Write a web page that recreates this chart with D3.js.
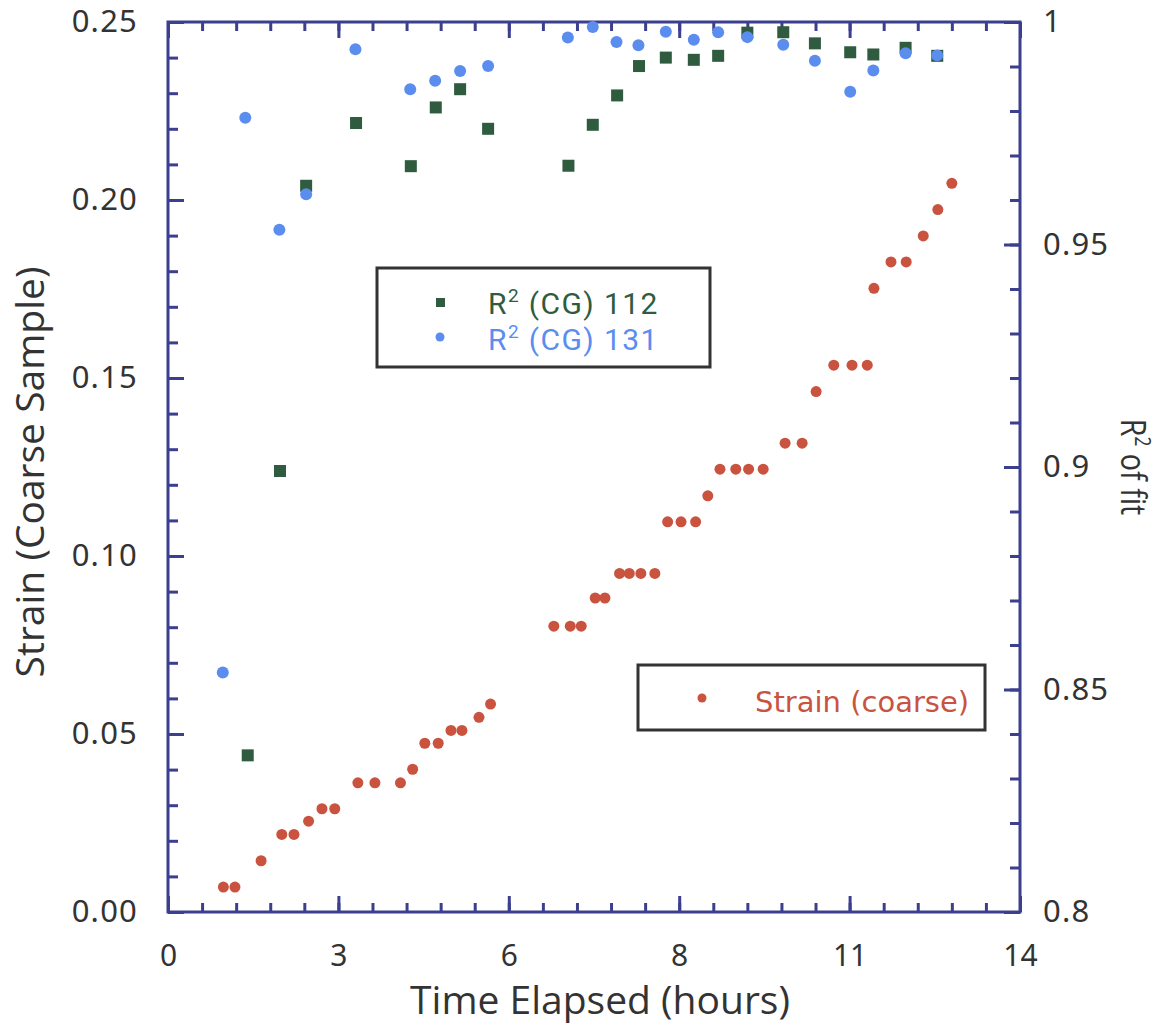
<!DOCTYPE html>
<html><head><meta charset="utf-8">
<script src="https://cdn.jsdelivr.net/npm/d3@7"></script>
<style>
html,body{margin:0;padding:0;background:#fff;}
svg{display:block;}
</style></head>
<body>
<script>
// ---------- DATA ----------
const strainHours = [0.91,1.10,1.53,1.87,2.07,2.31,2.53,2.74,3.12,3.40,3.82,4.02,4.22,4.44,4.65,4.83,5.11,5.30,
  6.34,6.61,6.79,7.02,7.18,7.42,7.58,7.77,8.00,8.21,8.43,8.67,8.87,9.07,9.33,9.54,9.78,10.14,10.42,10.65,
  10.94,11.24,11.49,11.60,11.88,12.13,12.41,12.65,12.88];
const strainValues = [0.0070,0.0070,0.0144,0.0218,0.0218,0.0255,0.0290,0.0290,0.0363,0.0363,0.0363,0.0401,0.0474,0.0474,0.0510,0.0510,0.0547,0.0584,
  0.0803,0.0803,0.0803,0.0882,0.0882,0.0951,0.0951,0.0951,0.0951,0.1096,0.1096,0.1096,0.1169,0.1244,0.1244,0.1244,0.1244,0.1317,0.1317,0.1462,
  0.1536,0.1536,0.1536,0.1752,0.1826,0.1826,0.1899,0.1973,0.2047];

const r2_112Hours = [1.31,1.84,2.27,3.09,3.99,4.40,4.80,5.26,6.58,6.98,7.38,7.74,8.18,8.64,9.04,9.52,10.11,10.63,11.21,11.59,12.12,12.64];
const r2_112Values = [0.8352,0.8991,0.9632,0.9773,0.9676,0.9808,0.9849,0.9760,0.9677,0.9769,0.9835,0.9901,0.9920,0.9915,0.9924,0.9976,0.9977,0.9952,0.9932,0.9927,0.9942,0.9924];

const r2_131Hours = [0.90,1.27,1.83,2.27,3.08,3.98,4.39,4.80,5.26,6.57,6.98,7.37,7.73,8.18,8.64,9.04,9.52,10.11,10.63,11.21,11.59,12.12,12.64];
const r2_131Values = [0.8538,0.9785,0.9533,0.9613,0.9939,0.9849,0.9868,0.9890,0.9901,0.9965,0.9989,0.9955,0.9948,0.9978,0.9960,0.9977,0.9966,0.9949,0.9913,0.9843,0.9891,0.9930,0.9925];

const xTickValues = [0,2.8,5.6,8.4,11.2,14];
const xTickLabels = ["0","3","6","8","11","14"];
const leftTickValues = [0,0.05,0.10,0.15,0.20,0.25];
const leftTickLabels = ["0.00","0.05","0.10","0.15","0.20","0.25"];
const rightTickValues = [0.8,0.85,0.9,0.95,1.0];
const rightTickLabels = ["0.8","0.85","0.9","0.95","1"];

const legendSeriesNums = ["112","131"];
const legendBottom = ["Strain (coarse)"];

// ---------- LAYOUT ----------
const W = 1163, H = 1029;
const L = 168, R = 1020, T = 22, B = 912;
const axisColor = "#3c3f8e";
const cGreen = "#2f5c3e", cBlue = "#5b8def", cRed = "#c9533f";
const tickFont = "'Noto Sans', 'Open Sans', sans-serif";
const titleFont = "'Open Sans', 'Noto Sans', sans-serif";

const svg = d3.select("body").append("svg").attr("width", W).attr("height", H);

const x = d3.scaleLinear().domain([0,14]).range([L,R]);
const yL = d3.scaleLinear().domain([0,0.25]).range([B,T]);
const yR = d3.scaleLinear().domain([0.8,1.0]).range([B,T]);

const xMinor = d3.range(0,26).map(i=>+(i*0.56).toFixed(4)).filter(v=>v<=14.0001);
const yLMinor = d3.range(0,26).map(i=>+(i*0.01).toFixed(4));
const yRMinor = d3.range(0,21).map(i=>+(0.8+i*0.01).toFixed(4));

function styleAxis(g){
  g.select(".domain").remove();
  g.selectAll("line").attr("stroke", axisColor).attr("stroke-width", 3);
}

// minor ticks
svg.append("g").attr("transform",`translate(0,${B})`).call(d3.axisBottom(x).tickValues(xMinor).tickSize(-9).tickFormat("")).call(styleAxis);
svg.append("g").attr("transform",`translate(0,${T})`).call(d3.axisTop(x).tickValues(xMinor).tickSize(-9).tickFormat("")).call(styleAxis);
svg.append("g").attr("transform",`translate(${L},0)`).call(d3.axisLeft(yL).tickValues(yLMinor).tickSize(-10).tickFormat("")).call(styleAxis);
svg.append("g").attr("transform",`translate(${R},0)`).call(d3.axisRight(yR).tickValues(yRMinor).tickSize(-10).tickFormat("")).call(styleAxis);

// major ticks with labels
const gx = svg.append("g").attr("transform",`translate(0,${B})`)
  .call(d3.axisBottom(x).tickValues(xTickValues).tickSize(-16).tickPadding(33).tickFormat((d,i)=>xTickLabels[i]));
styleAxis(gx);
gx.selectAll("text").attr("font-family", tickFont).attr("font-size", 30).attr("fill","#333");

const gxt = svg.append("g").attr("transform",`translate(0,${T})`)
  .call(d3.axisTop(x).tickValues(xTickValues).tickSize(-16).tickFormat(""));
styleAxis(gxt);

const gyl = svg.append("g").attr("transform",`translate(${L},0)`)
  .call(d3.axisLeft(yL).tickValues(leftTickValues).tickSize(-16).tickPadding(30).tickFormat((d,i)=>leftTickLabels[i]));
styleAxis(gyl);
gyl.selectAll("text").attr("font-family", tickFont).attr("font-size", 31).attr("letter-spacing", 1.2).attr("fill","#333");

const gyr = svg.append("g").attr("transform",`translate(${R},0)`)
  .call(d3.axisRight(yR).tickValues(rightTickValues).tickSize(-16).tickPadding(23).tickFormat((d,i)=>rightTickLabels[i]));
styleAxis(gyr);
gyr.selectAll("text").attr("font-family", tickFont).attr("font-size", 31).attr("letter-spacing", 1.2).attr("fill","#333");

// frame
svg.append("rect").attr("x",L).attr("y",T).attr("width",R-L).attr("height",B-T)
  .attr("fill","none").attr("stroke",axisColor).attr("stroke-width",3);

// titles
svg.append("text").attr("x",(L+R)/2+6).attr("y",1014).attr("text-anchor","middle")
  .attr("font-family",titleFont).attr("font-size",39).attr("fill","#333").text("Time Elapsed (hours)");
svg.append("text").attr("transform",`translate(44,472) rotate(-90)`).attr("text-anchor","middle")
  .attr("font-family",titleFont).attr("font-size",39).attr("fill","#333").text("Strain (Coarse Sample)");
const rt = svg.append("text").attr("transform",`translate(1121,467) rotate(90) scale(0.82,1)`).attr("text-anchor","middle")
  .attr("font-family",titleFont).attr("font-size",35).attr("fill","#333");
rt.append("tspan").text("R");
rt.append("tspan").attr("font-size",21).attr("dy",-14).text("2");
rt.append("tspan").attr("dy",14).text(" of fit");

// data points
svg.append("g").selectAll("rect").data(r2_112Hours).join("rect")
  .attr("x",(d)=>x(d)-6).attr("y",(d,i)=>yR(r2_112Values[i])-6)
  .attr("width",12).attr("height",12).attr("fill",cGreen);
svg.append("g").selectAll("circle").data(r2_131Hours).join("circle")
  .attr("cx",d=>x(d)).attr("cy",(d,i)=>yR(r2_131Values[i])).attr("r",6).attr("fill",cBlue);
svg.append("g").selectAll("circle").data(strainHours).join("circle")
  .attr("cx",d=>x(d)).attr("cy",(d,i)=>yL(strainValues[i])).attr("r",5.5).attr("fill",cRed);

// legend 1
const lg1 = svg.append("g");
lg1.append("rect").attr("x",377).attr("y",268).attr("width",333).attr("height",99)
  .attr("fill","#fff").attr("stroke","#333").attr("stroke-width",3);
lg1.append("rect").attr("x",436).attr("y",298).attr("width",9).attr("height",9).attr("fill",cGreen);
lg1.append("circle").attr("cx",440).attr("cy",337).attr("r",4.5).attr("fill",cBlue);
[[cGreen,legendSeriesNums[0],314],[cBlue,legendSeriesNums[1],350]].forEach(([c,n,yb])=>{
  const t = lg1.append("text").attr("x",488).attr("y",yb).attr("font-family","Roboto, sans-serif")
    .attr("font-size",30).attr("letter-spacing",1.4).attr("fill",c);
  t.append("tspan").text("R");
  t.append("tspan").attr("font-size",19).attr("dy",-12).text("2");
  t.append("tspan").attr("dy",12).text(" (CG) "+n);
});

// legend 2
const lg2 = svg.append("g");
lg2.append("rect").attr("x",638).attr("y",665).attr("width",347).attr("height",65)
  .attr("fill","#fff").attr("stroke","#333").attr("stroke-width",3);
lg2.append("circle").attr("cx",702).attr("cy",698).attr("r",4.5).attr("fill",cRed);
lg2.append("text").attr("x",755).attr("y",712).attr("font-family","'DejaVu Sans', sans-serif")
  .attr("font-size",29).attr("fill",cRed).text(legendBottom[0]);
</script>
</body></html>
